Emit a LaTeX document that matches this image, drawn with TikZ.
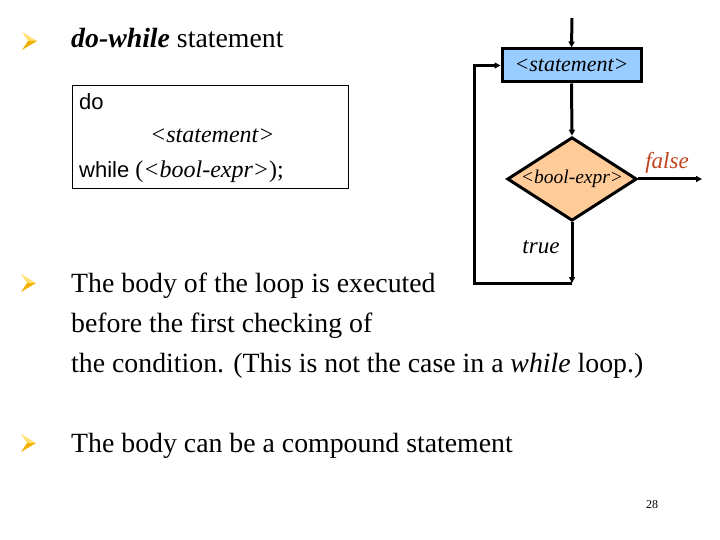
\documentclass[tikz,border=0pt]{standalone}
\usepackage{fontspec}
\setmainfont{Liberation Serif}
\newfontfamily\arialf{Liberation Sans}
\usetikzlibrary{shapes.geometric,arrows.meta}
\definecolor{boxblue}{HTML}{99CCFF}
\definecolor{diaorange}{HTML}{FFCC99}
\definecolor{falsered}{HTML}{C0441E}
\definecolor{bullA}{HTML}{FFE070}
\definecolor{bullB}{HTML}{F0B000}
\tikzset{
  flow/.style={line width=3pt, draw=black},
  arr/.style={flow, -{Triangle[length=6pt,width=6pt]}},
  body/.style={anchor=base west, inner sep=0pt, font=\fontsize{27.8}{30}\selectfont},
  lbl/.style={inner sep=0pt, font=\fontsize{23}{24}\selectfont\itshape},
}
\newcommand{\mybullet}[2]{%
  \fill[bullA] (#1-14,#2-9) -- (#1+1,#2) -- (#1-8,#2) -- cycle;
  \fill[bullB] (#1-14,#2+9) -- (#1+1,#2) -- (#1-8,#2) -- cycle;
}
\begin{document}
\begin{tikzpicture}[x=1pt,y=-1pt]
\useasboundingbox (0,0) rectangle (720,540);
% heading
\mybullet{36}{41}
\node[body] (h) at (71,48) {\textbf{\textit{do-while}} statement};
% code box
\node[draw=black, line width=0.8pt, minimum width=276pt, minimum height=103pt, anchor=north west, inner sep=0pt] (code) at (72,85) {};
\node[anchor=west, inner sep=0pt, font=\arialf\fontsize{22}{24}\selectfont] (c1) at (79,102) {do};
\node[anchor=west, inner sep=0pt, font=\fontsize{24}{26}\selectfont\itshape] (c2) at (150,136) {<statement>};
\node[anchor=west, inner sep=0pt, font=\fontsize{24}{26}\selectfont] (c3) at (79,172) {{\arialf\fontsize{22}{24}\selectfont while }(\textit{<bool-expr>});};
% flowchart
\coordinate (top) at (572,18);
\node[draw=black, line width=3pt, fill=boxblue, minimum width=139pt, minimum height=33pt, inner sep=0pt, font=\fontsize{22}{24}\selectfont\itshape] (st) at (571.5,65.5) {<statement>};
\node[draw=black, line width=3pt, fill=diaorange, diamond, aspect=1.55, minimum width=128pt, minimum height=83pt, inner sep=0pt, font=\fontsize{19.5}{22}\selectfont\itshape] (d) at (572,179) {<bool-expr>};
\coordinate (fend) at (702,179);
\coordinate (tend) at (572,283);
\coordinate (lb) at (474,283);
\coordinate (lt) at (474,65.5);
\draw[arr] (top) -- (st.north);
\draw[arr] (st.south) -- (d.north);
\draw[arr] (d.east) -- (fend);
\draw[arr] (d.south) -- (tend);
\draw[flow, -{Triangle[length=6pt,width=6pt]}] (tend) -- (lb) -- (lt) -- (st.west);
\node[lbl, text=falsered] (fl) at (667,163) {false};
\node[lbl] (tl) at (541,247) {true};
% body text
\mybullet{35}{283}
\node[body] (b1) at (71,292) {The body of the loop is executed};
\node[body] (b2) at (71,332) {before the first checking of};
\node[body] (b3) at (71,372) {the condition. (This is not the case in a \textit{while} loop.)};
\mybullet{35}{443}
\node[body] (b4) at (71,452) {The body can be a compound statement};
\node[inner sep=0pt, font=\fontsize{12}{14}\selectfont] (pg) at (652,505) {28};
\end{tikzpicture}
\end{document}
